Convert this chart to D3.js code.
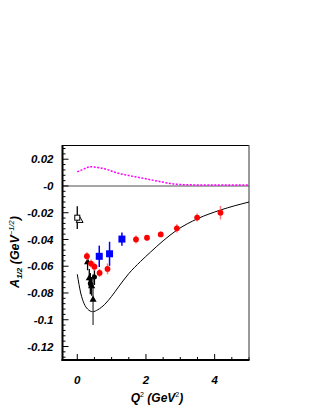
<!DOCTYPE html>
<html>
<head>
<meta charset="utf-8">
<script src="https://cdn.jsdelivr.net/npm/d3@7"></script>
<style>
  body { margin: 0; background: #fff; }
  text { font-family: "Liberation Sans", Arial, sans-serif; font-weight: bold; font-style: italic; }
</style>
</head>
<body>
<div id="chart"></div>
<script>
// model curves
var modelQ2 = [0, 0.1, 0.2, 0.3, 0.45, 0.6, 0.8, 1.0, 1.2, 1.5, 1.84, 2.13, 2.5, 2.9, 3.5, 4.17, 5.0];
var modelA = [-0.066, -0.080, -0.088, -0.092, -0.094, -0.0925, -0.0885, -0.0825, -0.0755, -0.0655, -0.0565, -0.0495, -0.0410, -0.0330, -0.0245, -0.0180, -0.0120];

var magQ2 = [0, 0.2, 0.38, 0.6, 0.8, 1.16, 1.5, 1.93, 2.42, 2.8, 3.1, 3.5, 4.0, 5.0];
var magA = [0.0105, 0.0128, 0.0144, 0.0138, 0.0128, 0.0097, 0.0078, 0.0057, 0.0032, 0.0015, 0.001, 0.0008, 0.0008, 0.0008];

// data sets
var redQ2 = [0.28, 0.40, 0.50, 0.65, 0.88, 1.71, 2.03, 2.43, 2.90, 3.49, 4.17];
var redA = [-0.0525, -0.058, -0.0603, -0.065, -0.062, -0.040, -0.0387, -0.0362, -0.0317, -0.0236, -0.0200];
var redErr = [0.003, 0.003, 0.003, 0.003, 0.004, 0.003, 0.002, 0.002, 0.003, 0.003, 0.005];

var blueQ2 = [0.64, 0.94, 1.30];
var blueA = [-0.0526, -0.0507, -0.0397];
var blueErr = [0.008, 0.009, 0.005];

var blackQ2 = [0.30, 0.35, 0.38, 0.42, 0.46, 0.50];
var blackA = [-0.057, -0.069, -0.073, -0.075, -0.085, -0.068];
var blackErr = [0.006, 0.007, 0.008, 0.007, 0.019, 0.006];
var blackShape = ["tri", "tri", "circ", "tri", "tri", "circ"];

var openSqQ2 = [0.0];
var openSqA = [-0.0237];
var openSqErr = [0.0085];
var openTriQ2 = [0.07];
var openTriA = [-0.0258];

var xMajor = [0, 2, 4];
var yMajor = [0.02, 0, -0.02, -0.04, -0.06, -0.08, -0.1, -0.12];
var yLabels = ["0.02", "-0", "-0.02", "-0.04", "-0.06", "-0.08", "-0.1", "-0.12"];

var svg = d3.select("#chart").append("svg").attr("width", 316).attr("height", 409);

var x = d3.scaleLinear().domain([-0.43, 5.0]).range([62.5, 249]);
var y = d3.scaleLinear().domain([-0.1301, 0.0304]).range([360, 145.3]);

var g = svg.append("g");

// zero line
g.append("line").attr("x1", x(-0.43)).attr("x2", x(5)).attr("y1", y(0)).attr("y2", y(0))
  .attr("stroke", "#888").attr("stroke-width", 1.5);

// minor/major ticks, drawn inside the frame
var xTicks = d3.range(-0.0, 5.01, 0.5);
xTicks.forEach(function(t) {
  var major = xMajor.indexOf(t) >= 0;
  g.append("line").attr("x1", x(t)).attr("x2", x(t))
    .attr("y1", 360).attr("y2", 360 - (major ? 6 : 3))
    .attr("stroke", "#000").attr("stroke-width", 1);
});
var yTicks = d3.range(-0.128, 0.0301, 0.004);
yTicks.forEach(function(t) {
  var major = yMajor.some(function(m) { return Math.abs(m - t) < 1e-6; });
  g.append("line").attr("x1", 62.5).attr("x2", 62.5 + (major ? 6 : 3))
    .attr("y1", y(t)).attr("y2", y(t))
    .attr("stroke", "#000").attr("stroke-width", 1);
});

// frame
g.append("line").attr("x1", 62.5).attr("x2", 249).attr("y1", 145.5).attr("y2", 145.5).attr("stroke", "#000").attr("stroke-width", 1.2);
g.append("line").attr("x1", 249).attr("x2", 249).attr("y1", 145).attr("y2", 360).attr("stroke", "#555").attr("stroke-width", 1.2);
g.append("line").attr("x1", 62.5).attr("x2", 62.5).attr("y1", 145).attr("y2", 361).attr("stroke", "#000").attr("stroke-width", 2);
g.append("line").attr("x1", 61.5).attr("x2", 249.5).attr("y1", 360).attr("y2", 360).attr("stroke", "#000").attr("stroke-width", 2);

// magenta dotted curve
var line = d3.line().x(function(d) { return x(d[0]); }).y(function(d) { return y(d[1]); }).curve(d3.curveMonotoneX);
g.append("path").attr("d", line(d3.zip(magQ2, magA)))
  .attr("fill", "none").attr("stroke", "#f0f").attr("stroke-width", 1.5).attr("stroke-dasharray", "2,1.5");

// black model curve
g.append("path").attr("d", line(d3.zip(modelQ2, modelA)))
  .attr("fill", "none").attr("stroke", "#000").attr("stroke-width", 1);

// black points cluster
blackQ2.forEach(function(q, i) {
  g.append("line").attr("x1", x(q)).attr("x2", x(q))
    .attr("y1", y(blackA[i] + blackErr[i])).attr("y2", y(blackA[i] - blackErr[i]))
    .attr("stroke", i == 4 ? "#444" : "#000").attr("stroke-width", 1.3);
});
blackQ2.forEach(function(q, i) {
  if (blackShape[i] == "tri") {
    g.append("path").attr("d", d3.symbol(d3.symbolTriangle, 22)())
      .attr("transform", "translate(" + x(q) + "," + y(blackA[i]) + ")").attr("fill", "#000");
  } else {
    g.append("circle").attr("cx", x(q)).attr("cy", y(blackA[i])).attr("r", 2.5).attr("fill", "#000");
  }
});

// open square and triangle
openSqQ2.forEach(function(q, i) {
  g.append("line").attr("x1", x(q)).attr("x2", x(q))
    .attr("y1", y(openSqA[i] + openSqErr[i])).attr("y2", y(openSqA[i] - openSqErr[i]))
    .attr("stroke", "#000").attr("stroke-width", 1.3);
});
openTriQ2.forEach(function(q, i) {
  g.append("path").attr("d", d3.symbol(d3.symbolTriangle, 20)())
    .attr("transform", "translate(" + x(q) + "," + y(openTriA[i]) + ")")
    .attr("fill", "#fff").attr("stroke", "#000").attr("stroke-width", 1);
});
openSqQ2.forEach(function(q, i) {
  g.append("rect").attr("x", x(q) - 2.5).attr("y", y(openSqA[i]) - 2.5).attr("width", 5).attr("height", 5)
    .attr("fill", "#fff").attr("stroke", "#000").attr("stroke-width", 1);
});

// blue squares
blueQ2.forEach(function(q, i) {
  g.append("line").attr("x1", x(q)).attr("x2", x(q))
    .attr("y1", y(blueA[i] + blueErr[i])).attr("y2", y(blueA[i] - blueErr[i]))
    .attr("stroke", "#00f").attr("stroke-width", 1.5);
  g.append("rect").attr("x", x(q) - 3.5).attr("y", y(blueA[i]) - 3.5).attr("width", 7).attr("height", 7)
    .attr("fill", "#00f");
});

// red circles
redQ2.forEach(function(q, i) {
  g.append("line").attr("x1", x(q)).attr("x2", x(q))
    .attr("y1", y(redA[i] + redErr[i])).attr("y2", y(redA[i] - redErr[i]))
    .attr("stroke", "#f77").attr("stroke-width", 1.5);
  g.append("circle").attr("cx", x(q)).attr("cy", y(redA[i])).attr("r", 2.9).attr("fill", "#f00");
});

// axis labels
yMajor.forEach(function(t, i) {
  g.append("text").attr("x", 53.5).attr("y", y(t)).attr("dy", "0.36em")
    .attr("text-anchor", "end").attr("font-size", 11.5).text(yLabels[i]);
});
xMajor.forEach(function(t) {
  g.append("text").attr("x", x(t)).attr("y", 384)
    .attr("text-anchor", "middle").attr("font-size", 11.5).text(t);
});

// x title
var xt = g.append("text").attr("x", 157).attr("y", 402).attr("text-anchor", "middle").attr("font-size", 12);
xt.append("tspan").text("Q");
xt.append("tspan").attr("dy", -5).attr("font-size", 7).attr("font-weight", "normal").attr("font-style", "normal").text("2");
xt.append("tspan").attr("dy", 5).text(" (GeV");
xt.append("tspan").attr("dy", -5).attr("font-size", 7).attr("font-weight", "normal").attr("font-style", "normal").text("2");
xt.append("tspan").attr("dy", 5).text(")");

// y title
var yt = g.append("text").attr("transform", "translate(19,252) rotate(-90)").attr("text-anchor", "middle").attr("font-size", 12.5);
yt.append("tspan").text("A");
yt.append("tspan").attr("dy", 3).attr("font-size", 8).text("1/2");
yt.append("tspan").attr("dy", -3).text(" (GeV");
yt.append("tspan").attr("dy", -5).attr("font-size", 7.5).attr("font-weight", "normal").text("\u22121/2");
yt.append("tspan").attr("dy", 5).text(")");
</script>
</body>
</html>
